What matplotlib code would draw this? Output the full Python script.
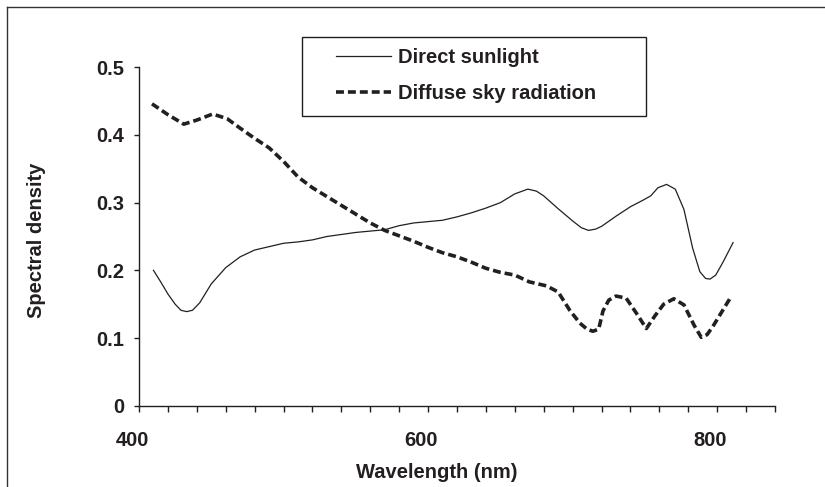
import numpy as np
import matplotlib
matplotlib.use('Agg')
import matplotlib.pyplot as plt
from matplotlib.patches import Rectangle
from matplotlib.lines import Line2D
from matplotlib.ticker import MultipleLocator, FixedLocator
import matplotlib.transforms as mtransforms

plt.rcParams['font.family'] = ['Liberation Sans', 'DejaVu Sans']
plt.rcParams['font.weight'] = 'bold'

INK = '#231f20'
W, H = 825, 487

# Direct sunlight (solid)
sun_nm = [410, 415, 420, 425, 429, 433, 437, 442, 450, 460, 470, 480, 490,
          500, 510, 520, 530, 540, 550, 560, 570, 580, 590, 600, 610, 620,
          630, 640, 650, 660, 669, 675, 680, 690, 700, 706, 711, 716, 720,
          730, 740, 749, 754, 759, 765, 771, 777, 783, 788, 792, 795, 799,
          804, 811]
sun = [0.200, 0.183, 0.165, 0.150, 0.141, 0.139, 0.141, 0.152, 0.180, 0.204,
       0.220, 0.230, 0.235, 0.240, 0.242, 0.245, 0.250, 0.253, 0.256, 0.258,
       0.260, 0.266, 0.270, 0.272, 0.274, 0.279, 0.285, 0.292, 0.300, 0.313,
       0.320, 0.317, 0.310, 0.291, 0.273, 0.263, 0.259, 0.261, 0.265, 0.280,
       0.294, 0.304, 0.310, 0.322, 0.327, 0.320, 0.290, 0.233, 0.198, 0.188,
       0.187, 0.193, 0.212, 0.241]

# Diffuse sky radiation (dashed)
sky_nm = [409, 420, 431, 440, 451, 461, 470, 480, 490, 500, 510, 520, 530,
          540, 550, 560, 570, 580, 590, 600, 610, 620, 630, 640, 650, 660,
          670, 682, 690, 698, 705, 710, 714, 718, 721, 725, 730, 737, 744,
          751, 757, 763, 770, 777, 784, 789, 793, 797, 803, 809]
sky = [0.446, 0.430, 0.416, 0.422, 0.431, 0.424, 0.410, 0.395, 0.381, 0.361,
       0.338, 0.322, 0.309, 0.296, 0.283, 0.270, 0.259, 0.251, 0.243, 0.234,
       0.226, 0.220, 0.212, 0.203, 0.197, 0.193, 0.183, 0.177, 0.168, 0.141,
       0.122, 0.113, 0.110, 0.113, 0.140, 0.156, 0.162, 0.159, 0.137, 0.114,
       0.133, 0.150, 0.158, 0.149, 0.119, 0.101, 0.105, 0.117, 0.138, 0.159]

x_labels = [400, 600, 800]
y_ticks = [0, 0.1, 0.2, 0.3, 0.4, 0.5]

fig = plt.figure(figsize=(W / 100, H / 100), dpi=100, facecolor='white')
ax = fig.add_axes([139 / W, 1 - 405.7 / H, (775 - 139) / W, (405.7 - 67.3) / H])

ax.plot(sun_nm, sun, color=INK, lw=0.9, label='Direct sunlight')
ax.plot(sky_nm, sky, color=INK, lw=2.6, dashes=(2.2, 1.1),
        label='Diffuse sky radiation')

ax.set_xlim(400, 840)
ax.set_ylim(0, 0.5)
for side in ['top', 'right']:
    ax.spines[side].set_visible(False)
for side in ['left', 'bottom']:
    ax.spines[side].set_color(INK)
    ax.spines[side].set_linewidth(1.0)

ax.xaxis.set_major_locator(FixedLocator(x_labels))
ax.xaxis.set_minor_locator(MultipleLocator(20))
ax.set_xticklabels([str(v) for v in x_labels])
ax.set_yticks(y_ticks)
ax.set_yticklabels(['0'] + [f'{v:.1f}' for v in y_ticks[1:]])

ax.tick_params(axis='x', which='both', direction='out', length=4.5,
               width=1.0, color=INK, pad=13.5, labelsize=14.5, labelcolor=INK)
ax.tick_params(axis='y', which='major', direction='out', length=3.5,
               width=1.0, color=INK, pad=7, labelsize=14.5, labelcolor=INK)

# Excel-style labels sit a little left of their ticks
shift = mtransforms.ScaledTranslation(-7 / 100, 0, fig.dpi_scale_trans)
for lab in ax.get_xticklabels():
    lab.set_transform(lab.get_transform() + shift)

fig.text(437 / W, 1 - 478 / H, 'Wavelength (nm)', ha='center', va='baseline',
         fontsize=14.5, color=INK)
fig.text(37 / W, 1 - 240 / H, 'Spectral density', ha='center', va='center',
         rotation=90, fontsize=14.5, color=INK)

# legend: entries without frame, box drawn separately
leg = fig.legend(loc='upper left', bbox_to_anchor=(336 / W, 1 - 48 / H),
                 frameon=False, fontsize=14.5, handlelength=2.74,
                 handletextpad=0.34, labelspacing=0.85, borderpad=0,
                 borderaxespad=0, labelcolor=INK)
fig.patches.append(Rectangle((302 / W, 1 - 116 / H), (646 - 302) / W,
                             (116 - 37) / H, transform=fig.transFigure,
                             fill=False, edgecolor=INK, lw=1.0))

# outer frame of the figure
fig.add_artist(Line2D([6.7 / W, 6.7 / W], [0, 1 - 7.3 / H],
                      transform=fig.transFigure, color='#333333', lw=1.0))
fig.add_artist(Line2D([6.7 / W, 1], [1 - 7.3 / H, 1 - 7.3 / H],
                      transform=fig.transFigure, color='#333333', lw=1.0))

fig.savefig('out.png', dpi=100, facecolor='white')
